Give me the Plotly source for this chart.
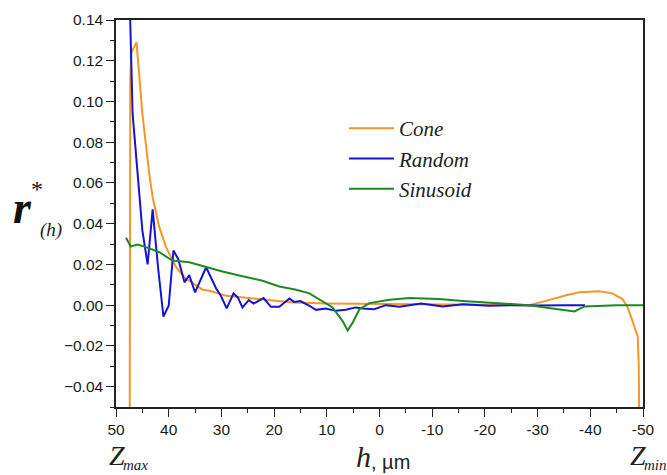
import plotly.graph_objects as go

# ---- data ----
cone_h = [47.4, 47.3, 47.1, 46.1, 45.0, 44.3, 43.7, 43.05, 41.8, 40.5, 38.6, 36.7, 36.1, 33.6,
          32.3, 29.1, 22.8, 16.5, 10.0, 0.0, -10.0, -20.0, -28.4, -31.6, -35.4, -37.9, -41.7,
          -44.2, -46.1, -47.1, -49.0, -49.2, -49.3]
cone_r = [-0.06, 0.110, 0.124, 0.129, 0.094, 0.078, 0.0647, 0.053, 0.0384, 0.0285, 0.0186, 0.0128,
          0.012, 0.0076, 0.0071, 0.0046, 0.003, 0.0013, 0.0008, 0.0006, 0.0004, 0.0002, 0.0,
          0.0021, 0.0049, 0.0063, 0.0068, 0.0058, 0.003, -0.0011, -0.0152, -0.03, -0.06]

random_h = [47.4, 46.85, 45.0, 44.0, 43.05, 42.0, 41.0, 40.0, 39.1, 38.2, 37.0, 36.1, 35.0, 32.9,
            31.0, 30.1, 29.0, 27.7, 26.9, 26.0, 24.8, 23.9, 22.0, 20.6, 19.0, 17.1, 16.2, 15.0,
            13.3, 12.05, 10.2, 8.3, 6.4, 4.5, 3.2, 1.0, -1.2, -3.8, -7.9, -12.0, -15.8, -20.8,
            -25.0, -30.0, -35.0, -39.0]
random_r = [0.15, 0.094, 0.0367, 0.020, 0.047, 0.018, -0.0056, -0.0003, 0.0268, 0.0227, 0.0112,
            0.0148, 0.0063, 0.0186, 0.0082, 0.0046, -0.0016, 0.0058, 0.0038, -0.0011, 0.0025,
            0.0008, 0.0035, -0.0008, -0.0008, 0.0033, 0.0016, 0.002, -0.0003, -0.0023, -0.0016,
            -0.0028, -0.0023, -0.0011, -0.0016, -0.002, 0.0, -0.0008, 0.0008, -0.0007, 0.0005,
            -0.0003, 0.0, -0.0002, 0.0, 0.0]

sinus_h = [48.1, 47.2, 45.9, 44.3, 41.8, 39.3, 36.1, 32.9, 29.8, 26.0, 22.2, 19.0, 15.8, 13.3,
           10.8, 8.9, 7.0, 6.05, 5.1, 3.8, 1.9, -1.9, -5.7, -11.3, -15.8, -18.9, -24.0, -28.4,
           -32.8, -37.0, -38.9, -45.0, -50.0]
sinus_r = [0.0331, 0.0288, 0.0298, 0.0285, 0.026, 0.0219, 0.0211, 0.0186, 0.0165, 0.0142, 0.012,
           0.0092, 0.0076, 0.0058, 0.0021, -0.0011, -0.0078, -0.0124, -0.0086, -0.002, 0.001,
           0.0026, 0.0035, 0.003, 0.0021, 0.0016, 0.0005, 0.0, -0.0016, -0.0031, -0.0006,
           0.0, 0.0]

x_ticks = [50, 40, 30, 20, 10, 0, -10, -20, -30, -40, -50]
y_ticks = [-0.04, -0.02, 0.00, 0.02, 0.04, 0.06, 0.08, 0.10, 0.12, 0.14]

# ---- figure ----
fig = go.Figure()
fig.add_trace(go.Scatter(x=cone_h, y=cone_r, mode="lines", name="Cone",
                         line=dict(color="#f5962a", width=2)))
fig.add_trace(go.Scatter(x=random_h, y=random_r, mode="lines", name="Random",
                         line=dict(color="#1414d2", width=2)))
fig.add_trace(go.Scatter(x=sinus_h, y=sinus_r, mode="lines", name="Sinusoid",
                         line=dict(color="#1e8a22", width=2)))

L, R, T, B = 116, 24, 20, 68
W, H = 667, 475
pw, ph = W - L - R, H - T - B


def px(xp):
    return (xp - L) / pw


def py(yp):
    return (H - B - yp) / ph


tickfont = dict(family="Liberation Sans, Arial, sans-serif", size=15.5, color="#1a1a1a")
fig.update_xaxes(range=[50, -50], tickvals=x_ticks, ticktext=[str(v) for v in x_ticks],
                 ticks="outside", ticklen=8, tickwidth=1.3, tickcolor="#222",
                 minor=dict(dtick=5, ticks="outside", ticklen=4, tickwidth=1.3, tickcolor="#222"),
                 showline=True, linecolor="#222", linewidth=1.5, mirror=True,
                 showgrid=False, zeroline=False, tickfont=tickfont)
fig.update_yaxes(range=[-0.05, 0.14], tickvals=y_ticks, tickformat=".2f",
                 ticks="outside", ticklen=8, tickwidth=1.3, tickcolor="#222",
                 minor=dict(dtick=0.01, tick0=0, ticks="outside", ticklen=4, tickwidth=1.3,
                            tickcolor="#222"),
                 showline=True, linecolor="#222", linewidth=1.5, mirror=True,
                 showgrid=False, zeroline=False, tickfont=tickfont)

serif = "Liberation Serif, Times New Roman, serif"
ann = [
    dict(text="r", x=px(22), y=py(207), font=dict(family=serif, size=46, color="#111",
         style="italic", weight="bold")),
    dict(text="*", x=px(37), y=py(189), font=dict(family=serif, size=24, color="#111")),
    dict(text="(h)", x=px(51), y=py(230), font=dict(family=serif, size=19, color="#222",
         style="italic")),
    dict(text="Z", x=px(117), y=py(455), font=dict(family=serif, size=28, color="#222",
         style="italic")),
    dict(text="max", x=px(135), y=py(465), font=dict(family=serif, size=15, color="#222",
         style="italic")),
    dict(text="h", x=px(363), y=py(456), font=dict(family=serif, size=30, color="#222",
         style="italic")),
    dict(text=", µm", x=px(390), y=py(462), font=dict(family="Liberation Sans, Arial, sans-serif",
         size=20, color="#222")),
    dict(text="Z", x=px(638), y=py(455), font=dict(family=serif, size=28, color="#222",
         style="italic")),
    dict(text="min", x=px(655), y=py(465), font=dict(family=serif, size=15, color="#222",
         style="italic")),
]
for a in ann:
    a.update(xref="paper", yref="paper", showarrow=False, xanchor="center", yanchor="middle")
fig.update_layout(annotations=ann)

fig.update_layout(
    width=W, height=H,
    margin=dict(l=L, r=R, t=T, b=B),
    paper_bgcolor="white", plot_bgcolor="white",
    legend=dict(x=px(344), y=py(108), xanchor="left", yanchor="top",
                bgcolor="rgba(0,0,0,0)", borderwidth=0,
                font=dict(family=serif, size=21, color="#222", style="italic"),
                itemwidth=45),
    showlegend=True,
)

fig.write_html("out.html")
